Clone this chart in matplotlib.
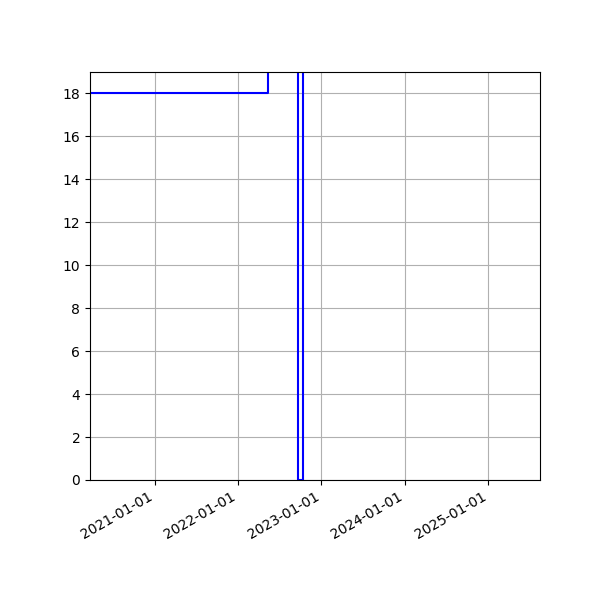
import matplotlib
matplotlib.use("Agg")
import matplotlib.pyplot as plt
import matplotlib.dates as mdates
from matplotlib.ticker import MultipleLocator
from datetime import datetime

# step series, value changes at each date
dates = [datetime(2020, 3, 1), datetime(2022, 5, 11), datetime(2022, 9, 20),
         datetime(2022, 10, 12), datetime(2025, 9, 1)]
values = [18, 30, 0, 30, 30]

x_start = datetime(2020, 3, 24)
x_end = datetime(2025, 8, 15)

fig, ax = plt.subplots(figsize=(6, 6), dpi=100)
ax.step(dates, values, where='post', color='b')
ax.set_xlim(x_start, x_end)
ax.set_ylim(0, 19)
ax.yaxis.set_major_locator(MultipleLocator(2))
ax.xaxis.set_major_locator(mdates.YearLocator())
ax.xaxis.set_major_formatter(mdates.DateFormatter('%Y-%m-%d'))
ax.grid(True)
fig.autofmt_xdate()
fig.subplots_adjust(left=0.15, right=0.9, top=0.88, bottom=0.2)
fig.savefig('out.png')
